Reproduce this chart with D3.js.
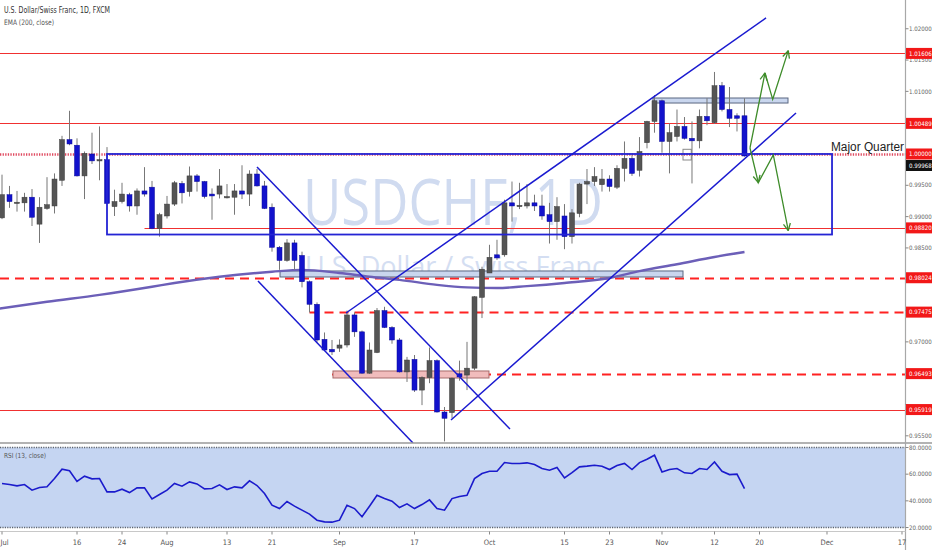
<!DOCTYPE html>
<html>
<head>
<meta charset="utf-8">
<script src="https://cdn.jsdelivr.net/npm/d3@7"></script>
<style>
  body { margin: 0; background: #fff; }
  svg { display: block; font-family: "Liberation Sans Narrow", "DejaVu Sans Condensed", "Liberation Sans", Arial, sans-serif; }
</style>
</head>
<body>
<svg id="chart" width="932" height="550"></svg>
<script>
// daily bars, 2 Jul 2018 (index 0) .. 16 Nov 2018 (index 99)
var opens  = [0.9898,0.9935,0.9922,0.9922,0.9931,0.9888,0.9913,0.9917,0.9958,1.0023,
              1.0014,0.9965,1.0000,0.9990,0.9991,0.9916,0.9924,0.9935,0.9917,0.9941,
              0.9947,0.9881,0.9901,0.9920,0.9953,0.9940,0.9965,0.9956,0.9936,0.9936,
              0.9931,0.9931,0.9941,0.9936,0.9968,0.9949,0.9915,0.9851,0.9830,0.9858,
              0.9838,0.9796,0.9760,0.9704,0.9688,0.9690,0.9695,0.9743,0.9716,0.9650,
              0.9683,0.9750,0.9723,0.9703,0.9652,0.9672,0.9623,0.9643,0.9670,0.9588,
              0.9587,0.9649,0.9647,0.9658,0.9771,0.9810,0.9839,0.9839,0.9922,0.9917,
              0.9917,0.9922,0.9917,0.9903,0.9892,0.9901,0.9868,0.9905,0.9952,0.9956,
              0.9951,0.9960,0.9947,0.9977,0.9993,0.9974,1.0018,1.0052,1.0085,1.0020,
              1.0028,1.0044,1.0025,1.0021,1.0060,1.0050,1.0109,1.0071,1.0061,1.0061];
var highs  = [0.9967,0.9949,0.9941,0.9938,0.9944,0.9931,0.9963,0.9969,1.0029,1.0069,
              1.0025,1.0004,1.0034,1.0044,1.0011,0.9943,0.9954,0.9938,0.9945,0.9979,
              0.9957,0.9906,0.9933,0.9957,0.9957,0.9980,0.9968,0.9957,0.9945,0.9976,
              0.9952,0.9952,0.9982,0.9974,0.9976,0.9957,0.9921,0.9853,0.9864,0.9863,
              0.9844,0.9798,0.9763,0.9715,0.9703,0.9704,0.9750,0.9747,0.9718,0.9699,
              0.9754,0.9756,0.9725,0.9706,0.9676,0.9679,0.9645,0.9691,0.9672,0.9596,
              0.9643,0.9670,0.9700,0.9773,0.9820,0.9855,0.9863,0.9927,0.9956,0.9954,
              0.9952,0.9935,0.9935,0.9922,0.9931,0.9920,0.9912,0.9954,0.9976,0.9979,
              0.9976,0.9966,0.9982,1.0020,0.9998,1.0027,1.0053,1.0094,1.0087,1.0049,
              1.0071,1.0059,1.0052,1.0071,1.0089,1.0131,1.0115,1.0107,1.0065,1.0089];
var lows   = [0.9896,0.9914,0.9908,0.9908,0.9885,0.9858,0.9911,0.9905,0.9949,1.0014,
              0.9964,0.9928,0.9984,0.9958,0.9920,0.9901,0.9921,0.9908,0.9903,0.9932,
              0.9880,0.9868,0.9897,0.9917,0.9921,0.9932,0.9940,0.9929,0.9895,0.9929,
              0.9929,0.9903,0.9928,0.9917,0.9948,0.9912,0.9844,0.9815,0.9828,0.9815,
              0.9787,0.9747,0.9700,0.9686,0.9679,0.9684,0.9691,0.9708,0.9649,0.9649,
              0.9682,0.9722,0.9697,0.9651,0.9636,0.9620,0.9599,0.9634,0.9587,0.9541,
              0.9578,0.9638,0.9623,0.9655,0.9738,0.9810,0.9831,0.9836,0.9892,0.9912,
              0.9913,0.9909,0.9895,0.9857,0.9863,0.9848,0.9857,0.9899,0.9920,0.9949,
              0.9940,0.9940,0.9944,0.9956,0.9965,0.9964,1.0009,1.0034,1.0002,0.9969,
              1.0020,1.0023,0.9953,1.0009,1.0046,1.0048,1.0068,1.0043,1.0036,0.99957];
var closes = [0.9935,0.9924,0.9923,0.9931,0.9899,0.9915,0.9919,0.9960,1.0023,1.0016,
              0.9965,1.0001,0.9989,0.9991,0.9921,0.9924,0.9936,0.9917,0.9941,0.9936,
              0.9881,0.9903,0.9920,0.9954,0.9938,0.9965,0.9956,0.9932,0.9933,0.9949,
              0.9932,0.9941,0.9936,0.9968,0.9949,0.9913,0.9851,0.9830,0.9858,0.9830,
              0.9796,0.9760,0.9703,0.9687,0.9684,0.9695,0.9743,0.9716,0.9650,0.9687,
              0.9750,0.9723,0.9703,0.9652,0.9671,0.9623,0.9643,0.9670,0.9588,0.9578,
              0.9642,0.9644,0.9658,0.9772,0.9816,0.9835,0.9834,0.9922,0.9917,0.9918,
              0.9922,0.9917,0.9901,0.9892,0.9916,0.9868,0.9906,0.9952,0.9956,0.9964,
              0.9960,0.9948,0.9977,0.9993,0.9969,1.0004,1.0052,1.0085,1.0020,1.0034,
              1.0044,1.0025,1.0021,1.0060,1.0053,1.0109,1.0071,1.0057,1.0057,0.99968];

// RSI(13) per bar
var rsi = [53.0,52.2,51.2,52.2,48.0,50.0,50.5,56.7,63.7,62.5,
           54.5,58.5,56.5,56.7,46.7,46.7,48.7,46.2,49.7,49.7,
           41.5,44.7,48.0,53.0,51.0,54.2,52.7,49.0,49.2,52.0,
           48.5,50.5,49.7,55.0,51.5,45.5,36.7,34.2,39.5,36.0,
           33.0,30.0,25.5,24.2,24.0,25.5,36.7,34.2,28.0,36.0,
           44.2,41.7,39.7,35.0,37.7,34.2,37.2,40.7,34.2,33.0,
           41.7,43.3,44.2,56.7,60.5,62.2,62.2,68.7,68.0,68.0,
           68.5,67.2,64.2,63.0,65.0,57.2,61.2,65.5,66.0,66.7,
           66.0,63.5,66.5,68.0,63.5,68.7,71.2,74.2,61.7,63.5,
           64.2,61.0,60.5,64.2,63.5,69.2,62.2,59.7,60.0,49.2];

// EMA(200, close) read at these bars
var emaIdx = [-1, 6, 13, 20, 23, 29, 36, 40, 45, 49, 53, 58, 62, 66, 70, 75, 81, 85, 90, 95, 99];
var emaVal = [0.9752,0.9764,0.9775,0.9788,0.9794,0.9804,0.9812,0.9815,0.9810,0.9804,0.9799,
              0.9791,0.9787,0.9786,0.9789,0.9794,0.9802,0.9813,0.9824,0.98355,0.98435];

// date axis
var tickIdx    = [0, 10, 16, 22, 30, 36, 45, 55, 65, 75, 81, 88, 95, 101, 110, 120];
var tickLabels = ["Jul","16","24","Aug","13","21","Sep","17","Oct","15","23","Nov","12","20","Dec","17"];

// horizontal levels (price, first bar)
var levelPrices = [1.01606, 1.00489, 1.00000, 0.98820, 0.98024, 0.97475, 0.96493, 0.95919];
var levelStart  = [-1, -1, -1, 19, -1, 41, 44, -1];
var dashedLevels = [0.98024, 0.97475, 0.96493];
var dottedLevels = [1.00000];

// trend lines [bar, price] -> [bar, price]
var trendLines = [
  [[45.87, 0.97461], [101.87, 1.02172]],
  [[59.87, 0.95752], [105.87, 1.00655]],
  [[34.00, 0.99792], [67.73, 0.95608]],
  [[34.13, 0.97972], [54.80, 0.95385]]
];
// boxes [bar0, bar1, priceTop, priceBottom]
var rangeBox  = [14, 110.67, 1.00000, 0.98714];
var blueZones = [[86.8, 104.8, 1.00894, 1.00814], [37.07, 90.8, 0.98132, 0.98036]];
var pinkZone  = [44.13, 64.93, 0.96535, 0.96423];
var smallBox  = [90.8, 91.9, 1.00075, 0.99904];
// projected paths, arrowheads at the 2nd and last point
var upPath   = [[99.73, 1.00096], [101.73, 1.01294], [102.76, 1.00873], [104.84, 1.01650]];
var downPath = [[99.73, 1.00096], [100.84, 0.99542], [102.84, 0.99984], [104.84, 0.98775]];

var lastClose = closes[closes.length - 1];

var svg = d3.select("#chart");
var W = 932, axisX = 905.5, mainH = 443;

var x  = d3.scaleLinear().domain([-0.2667, 120.4667]).range([0, axisX]);
var y  = d3.scaleLinear().domain([0.95385, 1.02459]).range([mainH, 0]);
var yr = d3.scaleLinear().domain([20, 80]).range([527.5, 447.5]);

var defs = svg.append("defs");
defs.append("clipPath").attr("id", "clipMain")
  .append("rect").attr("x", 0).attr("y", 0).attr("width", axisX).attr("height", mainH);
defs.append("clipPath").attr("id", "clipRsi")
  .append("rect").attr("x", 0).attr("y", mainH).attr("width", axisX).attr("height", 90);

var main = svg.append("g").attr("clip-path", "url(#clipMain)");

// watermark
main.append("text").attr("x", 453).attr("y", 225)
  .attr("text-anchor", "middle")
  .attr("font-family", "'Open Sans', 'Liberation Sans', sans-serif")
  .attr("font-size", 64).attr("fill", "#d0dbf0")
  .attr("textLength", 300).attr("lengthAdjust", "spacingAndGlyphs")
  .text("USDCHF, 1D");
main.append("text").attr("x", 455).attr("y", 276)
  .attr("text-anchor", "middle")
  .attr("font-family", "'Open Sans', 'Liberation Sans', sans-serif")
  .attr("font-size", 28).attr("fill", "#d4def2")
  .attr("textLength", 300).attr("lengthAdjust", "spacingAndGlyphs")
  .text("U.S. Dollar / Swiss Franc");

// snap a horizontal line to the pixel grid
function snap(v) { return Math.round(v) + 0.5; }

// levels
levelPrices.forEach(function(p, k) {
  var yy = snap(y(p));
  var ln = main.append("line")
    .attr("x1", levelStart[k] < 0 ? 0 : x(levelStart[k])).attr("x2", axisX)
    .attr("y1", yy).attr("y2", yy)
    .attr("stroke", "#f22");
  if (dashedLevels.indexOf(p) >= 0) {
    ln.attr("stroke-width", 1.8).attr("stroke-dasharray", "9,6");
  } else if (dottedLevels.indexOf(p) >= 0) {
    ln.attr("stroke-width", 2.4).attr("stroke-dasharray", "1.3,1.3").attr("stroke", "#e04a60");
  } else {
    ln.attr("stroke-width", 1).attr("stroke", "#f03030");
  }
});

// zones
function zone(z, fill, stroke) {
  main.append("rect")
    .attr("x", x(z[0])).attr("y", y(z[2]))
    .attr("width", x(z[1]) - x(z[0])).attr("height", y(z[3]) - y(z[2]))
    .attr("fill", fill).attr("stroke", stroke).attr("stroke-width", 1);
}
blueZones.forEach(function(z) { zone(z, "#c9d6ee", "#5a6680"); });
zone(pinkZone, "#f1bcbc", "#a66a6a");
zone(smallBox, "none", "#8a8a8a");

// EMA
main.append("path")
  .datum(emaIdx.map(function(d, k) { return [d, emaVal[k]]; }))
  .attr("d", d3.line().x(function(d) { return x(d[0]); }).y(function(d) { return y(d[1]); }).curve(d3.curveMonotoneX))
  .attr("fill", "none").attr("stroke", "#6c5fb8").attr("stroke-width", 2.4);

// candles
var bars = main.selectAll("g.bar").data(closes).enter().append("g").attr("class", "bar");
bars.append("line")
  .attr("x1", function(d, i) { return x(i); }).attr("x2", function(d, i) { return x(i); })
  .attr("y1", function(d, i) { return y(highs[i]); }).attr("y2", function(d, i) { return y(lows[i]); })
  .attr("stroke", "#777").attr("stroke-width", 1);
bars.append("rect")
  .attr("x", function(d, i) { return x(i) - 2.5; })
  .attr("width", 5)
  .attr("y", function(d, i) { return y(Math.max(opens[i], d)); })
  .attr("height", function(d, i) { return Math.max(1.3, Math.abs(y(opens[i]) - y(d))); })
  .attr("fill", function(d, i) { return d >= opens[i] ? "#555" : "#1212cc"; })
  .attr("stroke", function(d, i) { return d >= opens[i] ? "#3c3c3c" : "#0a0a9a"; })
  .attr("stroke-width", 0.5);

// range box
main.append("rect")
  .attr("x", x(rangeBox[0])).attr("y", y(rangeBox[2]))
  .attr("width", x(rangeBox[1]) - x(rangeBox[0])).attr("height", y(rangeBox[3]) - y(rangeBox[2]))
  .attr("fill", "none").attr("stroke", "#2424d4").attr("stroke-width", 1.8);

// trend lines
trendLines.forEach(function(t) {
  main.append("line")
    .attr("x1", x(t[0][0])).attr("y1", y(t[0][1]))
    .attr("x2", x(t[1][0])).attr("y2", y(t[1][1]))
    .attr("stroke", "#1a1ad0").attr("stroke-width", 1.5);
});

// projection arrows
function arrowPath(pts) {
  var px = pts.map(function(d) { return [x(d[0]), y(d[1])]; });
  main.append("path").attr("d", d3.line()(px))
    .attr("fill", "none").attr("stroke", "#3e8c2a").attr("stroke-width", 1.3);
  [1, px.length - 1].forEach(function(k) {
    var a = px[k - 1], b = px[k];
    var ang = Math.atan2(a[1] - b[1], a[0] - b[0]);
    [-0.45, 0.45].forEach(function(s) {
      main.append("line")
        .attr("x1", b[0]).attr("y1", b[1])
        .attr("x2", b[0] + 8 * Math.cos(ang + s)).attr("y2", b[1] + 8 * Math.sin(ang + s))
        .attr("stroke", "#3e8c2a").attr("stroke-width", 1.3);
    });
  });
}
arrowPath(upPath);
arrowPath(downPath);

// note
svg.append("text").attr("x", 831).attr("y", 151)
  .attr("font-family", "'Liberation Sans', Arial, sans-serif")
  .attr("font-size", 12).attr("fill", "#222")
  .attr("textLength", 73).attr("lengthAdjust", "spacingAndGlyphs")
  .text("Major Quarter");

// legend
svg.append("text").attr("x", 4).attr("y", 13).attr("font-size", 8).attr("fill", "#333")
  .attr("textLength", 106).attr("lengthAdjust", "spacingAndGlyphs")
  .text("U.S. Dollar/Swiss Franc, 1D, FXCM");
svg.append("text").attr("x", 4).attr("y", 25).attr("font-size", 7.5).attr("fill", "#555")
  .attr("textLength", 50).attr("lengthAdjust", "spacingAndGlyphs")
  .text("EMA (200, close)");

// RSI pane
var rp = svg.append("g").attr("clip-path", "url(#clipRsi)");
rp.append("rect").attr("x", 0).attr("y", yr(80)).attr("width", axisX).attr("height", yr(20) - yr(80))
  .attr("fill", "#c5d5f2");
[80, 20].forEach(function(v) {
  rp.append("line").attr("x1", 0).attr("x2", axisX).attr("y1", yr(v)).attr("y2", yr(v))
    .attr("stroke", "#5d6470").attr("stroke-width", 1.3).attr("stroke-dasharray", "1.2,1.2");
});
rp.append("path")
  .datum(rsi)
  .attr("d", d3.line().x(function(d, i) { return x(i); }).y(function(d) { return yr(d); }))
  .attr("fill", "none").attr("stroke", "#1b1bcc").attr("stroke-width", 1.6);
svg.append("text").attr("x", 4).attr("y", 458).attr("font-size", 7).attr("fill", "#555")
  .attr("textLength", 42).attr("lengthAdjust", "spacingAndGlyphs")
  .text("RSI (13, close)");

// pane separator
svg.append("line").attr("x1", 0).attr("x2", W).attr("y1", mainH).attr("y2", mainH)
  .attr("stroke", "#9a9a9a").attr("stroke-width", 1.5);

// price axis
svg.append("line").attr("x1", axisX).attr("x2", axisX).attr("y1", 0).attr("y2", 550)
  .attr("stroke", "#a8a8a8").attr("stroke-width", 1.2);
var axisFont = 6.1;
function axisLabel(yy, str, fill) {
  svg.append("text").attr("x", axisX + 3.5).attr("y", yy).attr("dy", "0.35em")
    .attr("font-size", axisFont).attr("fill", fill)
    .text(str);
}
var tagYs = levelPrices.map(function(p) { return y(p); });
d3.range(0, 14).map(function(k) { return 0.955 + k * 0.005; }).forEach(function(v) {
  var yy = y(v);
  svg.append("line").attr("x1", axisX).attr("x2", axisX + 3).attr("y1", yy).attr("y2", yy)
    .attr("stroke", "#888");
  // labels hidden behind a level tag are not drawn
  var covered = tagYs.some(function(t) { return Math.abs(t - yy) < 6; });
  if (!covered) axisLabel(yy, d3.format(".5f")(v), "#666");
});
[80, 60, 40, 20].forEach(function(v) {
  svg.append("line").attr("x1", axisX).attr("x2", axisX + 3).attr("y1", yr(v)).attr("y2", yr(v))
    .attr("stroke", "#888");
  axisLabel(yr(v), d3.format(".4f")(v), "#666");
});
function priceTag(p, yy, fill) {
  svg.append("rect").attr("x", axisX + 0.5).attr("y", yy - 5.5).attr("width", W - axisX).attr("height", 11)
    .attr("fill", fill);
  axisLabel(yy, d3.format(".5f")(p), "#fff");
}
levelPrices.forEach(function(p) { priceTag(p, y(p), "#f21818"); });
priceTag(lastClose, Math.max(y(lastClose), y(1.0) + 11.5), "#111");

// date axis
svg.append("line").attr("x1", 0).attr("x2", axisX).attr("y1", 531.5).attr("y2", 531.5)
  .attr("stroke", "#c8c8c8");
tickIdx.forEach(function(t, k) {
  svg.append("line").attr("x1", x(t)).attr("x2", x(t)).attr("y1", 531.5).attr("y2", 534.5)
    .attr("stroke", "#888");
  var tx = svg.append("text").attr("x", x(t)).attr("y", 545)
    .attr("text-anchor", "middle").attr("font-size", 7.5).attr("fill", "#555")
    .text(tickLabels[k]);
  // keep the first label inside the picture
  var bb = tx.node().getBBox();
  if (bb.x < 0) tx.attr("text-anchor", "start").attr("x", 0.5);
});
</script>
</body>
</html>
